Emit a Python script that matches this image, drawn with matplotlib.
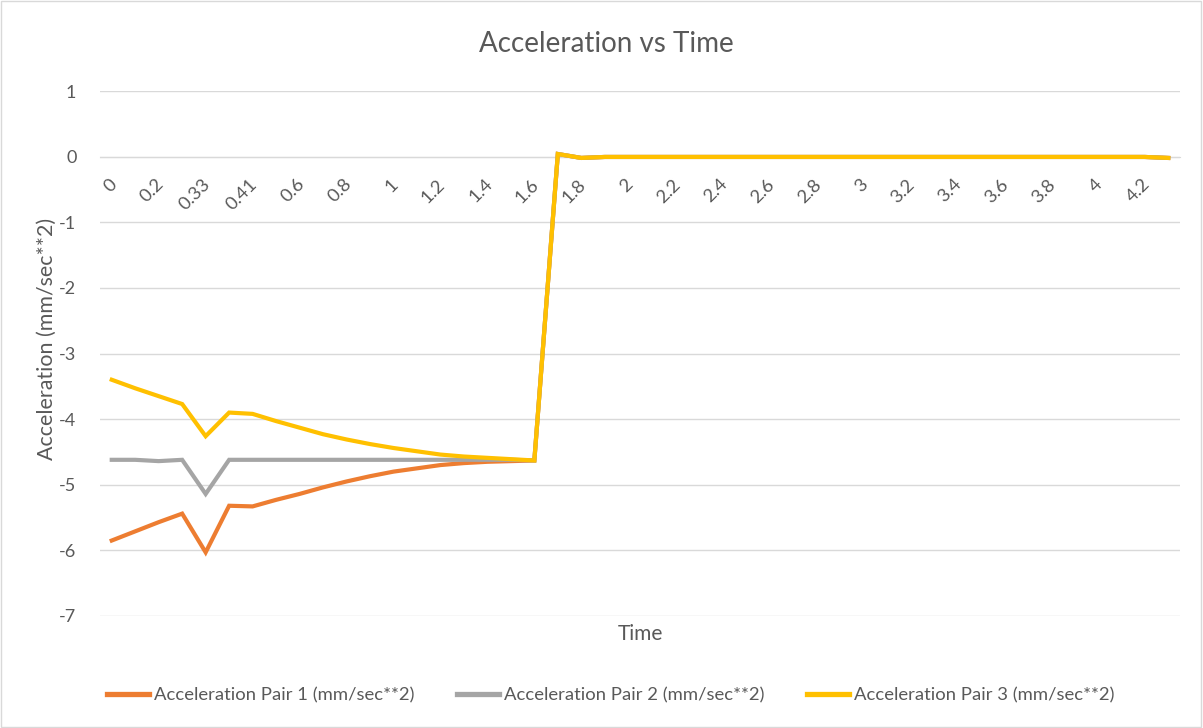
import matplotlib.pyplot as plt
import matplotlib.transforms as mtransforms
from matplotlib.patches import Rectangle

plt.rcParams['font.family'] = ['Lato', 'DejaVu Sans']
plt.rcParams['axes.unicode_minus'] = False

# categories (Excel category axis, every other one labelled)
times = ["0", "0.1", "0.2", "0.3", "0.33", "0.37", "0.41", "0.5", "0.6", "0.7",
         "0.8", "0.9", "1", "1.1", "1.2", "1.3", "1.4", "1.5", "1.6", "1.7",
         "1.8", "1.9", "2", "2.1", "2.2", "2.3", "2.4", "2.5", "2.6", "2.7",
         "2.8", "2.9", "3", "3.1", "3.2", "3.3", "3.4", "3.5", "3.6", "3.7",
         "3.8", "3.9", "4", "4.1", "4.2", "4.3"]

# tail after the jump (same for all pairs)
tail = [0.04, -0.02] + [-0.005] * 24 + [-0.02]

pair1 = [-5.85, -5.71, -5.57, -5.44, -6.03, -5.32, -5.33, -5.23, -5.14, -5.04,
         -4.95, -4.87, -4.80, -4.75, -4.70, -4.67, -4.65, -4.64, -4.63] + tail
pair2 = [-4.62, -4.62, -4.64, -4.62, -5.14, -4.62, -4.62, -4.62, -4.62, -4.62,
         -4.62, -4.62, -4.62, -4.62, -4.62, -4.62, -4.62, -4.62, -4.63] + tail
pair3 = [-3.40, -3.53, -3.65, -3.77, -4.26, -3.90, -3.92, -4.03, -4.13, -4.23,
         -4.31, -4.38, -4.44, -4.49, -4.54, -4.57, -4.59, -4.61, -4.63] + tail

series = [
    ("Acceleration Pair 1 (mm/sec**2)", pair1, "#ED7D31"),
    ("Acceleration Pair 2 (mm/sec**2)", pair2, "#A5A5A5"),
    ("Acceleration Pair 3 (mm/sec**2)", pair3, "#FFC000"),
]

text_col = "#595959"
grid_col = "#D9D9D9"

fig = plt.figure(figsize=(12.03, 7.28), dpi=100)
ax = fig.add_axes([100 / 1203, 112 / 728, 1080 / 1203, 525 / 728])

x = list(range(len(times)))
for label, vals, col in series:
    ax.plot(x, vals, color=col, lw=3.0, label=label, solid_joinstyle='miter')

ax.set_xlim(-0.5, len(times) - 0.5)
ax.set_ylim(-7, 1)
ax.set_yticks(range(-7, 2))
ax.yaxis.grid(True, color=grid_col, lw=1)
ax.set_axisbelow(True)

for s in ['top', 'right', 'left']:
    ax.spines[s].set_visible(False)
ax.spines['bottom'].set_position(('data', 0))
ax.spines['bottom'].set_color(grid_col)
ax.spines['bottom'].set_zorder(0)

ax.set_xticks(x[::2])
ax.set_xticklabels(times[::2], rotation=45, ha='right', va='top')
ax.tick_params(axis='x', length=0, pad=14, labelsize=13.3, labelcolor=text_col)
ax.tick_params(axis='y', length=0, pad=17, labelsize=13, labelcolor=text_col)
shift = mtransforms.ScaledTranslation(8 / 100, 0, fig.dpi_scale_trans)
for lab in ax.get_xticklabels():
    lab.set_transform(lab.get_transform() + shift)

fig.text(606 / 1203, 1 - 44 / 728, "Acceleration vs Time", fontsize=20,
         color=text_col, ha='center', va='center')
fig.text(47 / 1203, 1 - 339 / 728, "Acceleration (mm/sec**2)", fontsize=15.4,
         color=text_col, ha='center', va='center', rotation=90)
fig.text(640 / 1203, 1 - 634 / 728, "Time", fontsize=15, color=text_col,
         ha='center', va='center')

fig.legend(loc='center', bbox_to_anchor=(611 / 1203, 1 - 695 / 728), ncol=3,
           frameon=False, fontsize=13.3, labelcolor=text_col, handlelength=2.27,
           handletextpad=0.27, columnspacing=2.3)
for h in fig.legends[0].get_lines():
    h.set_linewidth(3.8)

fig.patches.append(Rectangle((0.001, 0.001), 0.997, 0.997, transform=fig.transFigure,
                             fill=False, edgecolor=grid_col, lw=1))

fig.savefig("out.png", dpi=100)
